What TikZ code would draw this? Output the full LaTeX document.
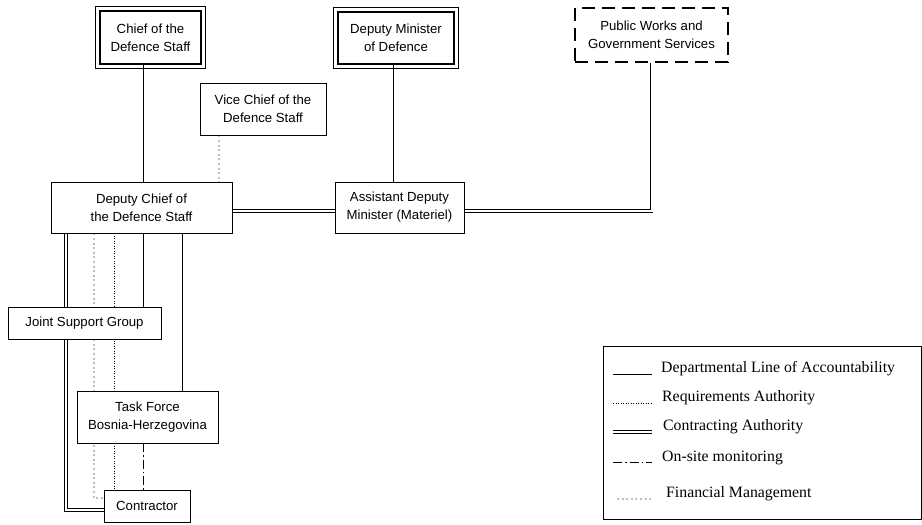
\documentclass[tikz,border=0pt]{standalone}
\usepackage{fontspec}
\setmainfont{Liberation Sans}
\newfontfamily\lgfont{Liberation Serif}
\usetikzlibrary{backgrounds,calc}
\tikzset{
  orgbox/.style={draw, line width=0.8pt, fill=white, align=center, inner sep=0pt,
    font=\fontsize{13.2}{18}\selectfont},
  heavybox/.style={orgbox, line width=2.4pt},
  pwbox/.style={orgbox, line width=2.2pt, dash pattern=on 13pt off 7pt},
  acct/.style={line width=0.9pt},
  req/.style={line width=1pt, dash pattern=on 1pt off 1.5pt},
  contr/.style={double, double distance=2pt, line width=0.9pt},
  onsite/.style={line width=1pt, dash pattern=on 9pt off 3pt on 1.5pt off 3pt},
  fin/.style={line width=2pt, gray!50, dash pattern=on 2pt off 2.6pt},
  legtext/.style={anchor=west, font=\lgfont\fontsize{15.8}{18}\selectfont, inner sep=0pt},
}
\begin{document}
\begin{tikzpicture}[x=1pt, y=-1pt]
\useasboundingbox (0,0) rectangle (922,525);
% boxes
\node[heavybox, minimum width=101, minimum height=53] (cds) at (150.5,37.5) {Chief of the\\Defence Staff};
\node[heavybox, minimum width=116, minimum height=52] (dm) at (396,38) {Deputy Minister\\of Defence};
\node[pwbox, minimum width=153, minimum height=54] (pw) at (651.5,35) {Public Works and\\Government Services};
\node[orgbox, minimum width=126, minimum height=52] (vcds) at (263,109) {Vice Chief of the\\Defence Staff};
\node[orgbox, minimum width=181, minimum height=51] (dcds) at (141.5,207.5) {Deputy Chief of\\the Defence Staff};
\node[orgbox, minimum width=129, minimum height=51] (adm) at (399.5,207.5) {Assistant Deputy\\Minister (Materiel)};
\node[orgbox, minimum width=153, minimum height=32] (jsg) at (84.5,323) {Joint Support Group};
\node[orgbox, minimum width=141, minimum height=52] (tf) at (147.5,417) {Task Force\\Bosnia-Herzegovina};
\node[orgbox, minimum width=86, minimum height=32] (con) at (147,506) {Contractor};
% outer thin frames of heavy boxes
\draw[line width=0.8pt] ([shift={(-3.5pt,-3.5pt)}]cds.south west) rectangle ([shift={(3.5pt,3.5pt)}]cds.north east);
\draw[line width=0.8pt] ([shift={(-3.5pt,-3.5pt)}]dm.south west) rectangle ([shift={(3.5pt,3.5pt)}]dm.north east);
% column coordinates
\coordinate (cA) at (66,0);
\coordinate (cF) at (94,0);
\coordinate (cR) at (114,0);
\coordinate (cS) at (143,0);
\coordinate (cT) at (182,0);
\coordinate (cM) at (393,0);
\coordinate (cV) at (219,0);
\begin{scope}[on background layer]
\draw[acct] (cds.south -| cS) -- (dcds.north -| cS);
\draw[acct] (dm.south -| cM) -- (adm.north -| cM);
\draw[fin] (vcds.south -| cV) -- (dcds.north -| cV);
\draw[contr] ([yshift=-3.5pt]dcds.east) -- ([yshift=-3.5pt]adm.west);
\draw[contr] ([yshift=-3.5pt]adm.east) -| (pw.south);
\draw[contr] (dcds.south -| cA) -- (jsg.north -| cA);
\draw[contr] (jsg.south -| cA) |- ([yshift=-4pt]con.west);
\draw[fin] (dcds.south -| cF) |- ([yshift=8pt]con.west);
\draw[req] (dcds.south -| cR) -- (con.north -| cR);
\draw[acct] (dcds.south -| cS) -- (jsg.north -| cS);
\draw[acct] (dcds.south -| cT) -- (tf.north -| cT);
\draw[onsite] (tf.south -| cS) -- (con.north -| cS);
\end{scope}
% legend
\node[draw, line width=0.9pt, minimum width=318, minimum height=173, inner sep=0pt] (leg) at (762,432.5) {};
\draw[acct] (613,374) -- (652,374);
\draw[req] (613,403) -- (652,403);
\draw[contr] (613,432) -- (652,432);
\draw[onsite] (613,462) -- (652,462);
\draw[fin] (617,499) -- (652,499);
\node[legtext] (t1) at (661,369) {Departmental Line of Accountability};
\node[legtext] (t2) at (662,398) {Requirements Authority};
\node[legtext] (t3) at (663,427) {Contracting Authority};
\node[legtext] (t4) at (662,458) {On-site monitoring};
\node[legtext] (t5) at (666,494) {Financial Management};
\end{tikzpicture}
\end{document}
